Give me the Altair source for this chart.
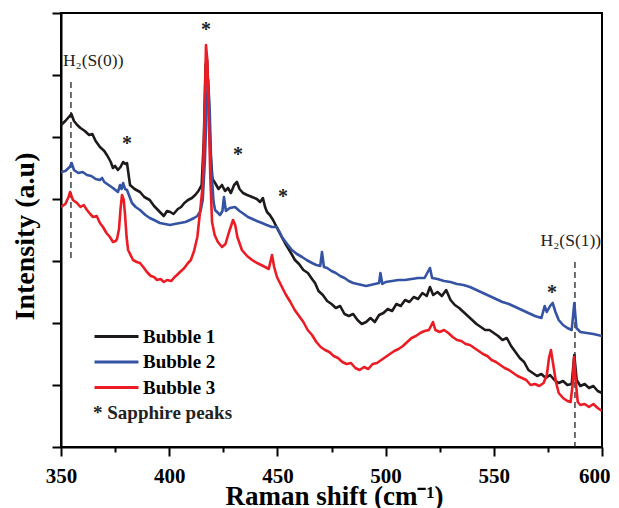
import altair as alt
import pandas as pd

# ---------------- data ----------------
series_names = ["Bubble 1", "Bubble 2", "Bubble 3"]
series_colors = ["#1e1a1b", "#3553a4", "#ec1c24"]

b1_x = [350, 352, 354, 354.8, 356, 357.5, 359, 361, 363, 364.5, 366, 368, 370, 371.5, 373, 374, 375,
        376.3, 377.5, 378.7, 379.8, 380.5, 381.9, 384, 386.5, 388.5, 391, 393, 395.7, 397.5, 399, 400.5,
        402, 404, 405.5, 407, 408.7, 410.5, 412, 413.5, 415, 416, 416.8, 417.5, 418.3, 419, 420, 421.2,
        422.8, 424.4, 425.8, 427.2, 428.5, 430, 431.3, 432.5, 434.1, 436, 438.3, 440.5, 442, 443.3, 444.3,
        445.2, 446.5, 448, 450.3, 452, 453.5, 456, 458.1, 460, 462, 464.1, 466, 467.4, 469, 471, 473, 475,
        477, 479, 481, 483, 485, 487, 489, 491, 493, 495, 497, 499, 501, 503, 505, 507, 509, 511, 513, 515,
        517, 519, 520.5, 522, 524, 526, 528, 530, 532, 534, 536, 538, 540, 542, 544, 546, 548, 550, 552,
        554, 556, 558, 560, 562, 564, 566, 568, 570, 572, 574, 576, 578, 580, 582, 584, 586, 587.2, 588.3,
        590, 592, 594, 596, 598, 600]
b1_y = [322, 326, 331, 333, 326, 322, 319, 316, 312, 313, 306, 300, 296, 291, 285, 279, 281,
        277, 280, 285, 283, 284, 262, 258, 255, 250, 247, 241, 235, 231, 236, 235,
        233, 238, 240, 244, 247, 249, 252, 256, 262, 307, 382, 387, 347, 297, 268, 264,
        258, 262, 256, 259, 254, 262, 265, 258, 254, 252, 250, 248, 245, 249, 240,
        235, 232, 227, 217, 210, 204, 195, 187, 183, 177, 174, 168, 164, 156, 152, 146, 143,
        139, 141, 133, 131, 133, 127, 123, 125, 129, 125, 132, 134, 138, 136, 143, 141, 147, 145, 150, 148,
        154, 151, 160, 152, 155, 151, 157, 147, 142, 139, 135, 131, 127, 123, 120, 117, 117, 114, 111,
        107, 109, 101, 95, 89, 85, 77, 74, 71, 73, 69, 72, 67, 64, 66, 62, 63, 92, 67,
        61, 63, 59, 61, 56, 54]

b2_x = [350, 352, 354, 354.9, 356, 358, 360, 362, 364, 366, 368, 369, 370, 372, 374, 376.3, 377.3, 378,
        378.7, 379.6, 380.5, 382.8, 384.5, 386.5, 389, 391, 393, 395.7, 398, 400.4, 402.5, 405, 407.5,
        409.6, 411.5, 413, 414.5, 415.5, 416.5, 417.4, 418, 418.7, 419.5, 420.5, 421.2, 423.5, 424.6,
        425.3, 426.2, 428, 430.4, 432.5, 434.5, 436.4, 438.5, 440.5, 442.9, 445, 447.5, 449.8, 451,
        452.1, 454.5, 456.7, 459, 461.4, 463.5, 466, 468, 469.8, 470.6, 471.5, 473, 475, 477, 479, 481,
        483, 485, 487, 489, 491, 493, 495, 497, 497.6, 498.5, 500, 503, 506, 509, 512, 515, 518, 520.5,
        521.5, 524, 527, 530, 533, 536, 539, 542, 545, 548, 551, 554, 557, 560, 563, 566, 569, 572,
        573.5, 574.5, 576, 577.2, 578.5, 580, 582, 584, 586, 587.2, 588.2, 590, 593, 596, 600]
b2_y = [275, 276, 280, 284, 277, 274, 275, 272, 271, 268, 267, 269, 265, 262, 259, 255, 262, 258,
        264, 258, 257, 244, 240, 237, 232, 229, 227, 224, 223, 222, 223, 224, 225,
        227, 229, 231, 236, 247, 287, 347, 367, 337, 277, 245, 237, 232, 236,
        250, 236, 239, 240, 236, 233, 230, 228, 226, 224, 222, 220, 220, 215,
        210, 203, 197, 193, 190, 187, 184, 182, 181, 195, 180, 179, 176, 174, 171, 169,
        166, 164, 163, 162, 161, 162, 163, 164, 174, 163, 165, 166, 167, 167, 168, 169, 169, 179,
        169, 168, 166, 165, 163, 162, 160, 157, 154, 151, 148, 145, 143, 140, 137, 134, 131, 129,
        141, 135, 141, 144, 135, 127, 122, 119, 117, 144, 119, 115, 114, 113, 111]

b3_x = [350, 352, 353.5, 354.2, 355.5, 357.4, 359, 360.5, 362, 363.5, 364.8, 366.5, 368, 369.4, 371,
        372.6, 374, 375.3, 375.9, 376.8, 377.5, 378.2, 379, 379.6, 380.3, 381, 383.3, 385, 386.5, 388,
        389.7, 391.5, 393, 394.4, 396, 397.5, 399, 401, 402.5, 403.6, 405, 407, 408.7, 410, 411.5, 413,
        414.5, 415.5, 416.3, 417, 417.6, 418.3, 419, 419.8, 421, 422.5, 424.4, 426, 427.5, 429.5, 430.5,
        431.5, 433.6, 436, 438.3, 440.6, 442.5, 444.3, 446, 447.5, 448.5, 449.8, 452.1, 454, 456, 458,
        460, 462, 464, 466, 468, 470, 472, 474, 476, 478, 480, 482, 484, 486, 488, 490, 492, 494, 496,
        498, 500, 502, 504, 506, 508, 510, 512, 514, 516, 518, 520, 521.9, 523, 525, 527, 529, 531, 533,
        535, 537, 539, 541, 543, 545, 547, 549, 551, 553, 555, 557, 559, 561, 563, 565, 567, 569, 571,
        573, 574.5, 575.5, 576.4, 577.5, 578.7, 580, 582, 584, 585.5, 586.4, 587.1, 587.8, 588.8, 590,
        592, 594, 596, 598, 600]
b3_y = [240, 243, 250, 255, 247, 244, 240, 242, 237, 233, 230, 231, 224, 220, 214,
        210, 205, 206, 208, 218, 238, 252, 247, 232, 210, 197, 187, 185, 184, 180,
        175, 171, 170, 167, 168, 165, 167, 166, 170, 172, 175, 179, 184, 187, 196, 210,
        240, 262, 327, 402, 387, 330, 270, 225, 212, 205, 200, 203, 214, 227, 222,
        210, 197, 191, 187, 184, 182, 180, 178, 192, 180, 170, 160, 152, 145, 137,
        131, 125, 117, 112, 105, 100, 97, 95, 91, 89, 85, 83, 84, 79, 77, 80, 78, 83, 84,
        87, 90, 93, 96, 98, 101, 105, 109, 111, 114, 116, 117, 125, 117, 115, 117, 114, 110, 107,
        106, 103, 102, 99, 96, 93, 91, 87, 85, 82, 79, 77, 74, 71, 69, 67, 62, 63, 61,
        64, 72, 89, 97, 82, 65, 54, 49, 46, 45, 62, 90, 67, 45, 42,
        43, 40, 43, 39, 36]

# sapphire peak markers (asterisks) and H2 lines
star_x = [380.5, 417.0, 431.8, 452.6, 576.9]
star_y = [306, 420, 295, 253, 157]
h2_line_x = [354.6, 587.5]
h2_line_top = [365, 185]
h2_line_bottom = [189, 0]
h2_labels = ["H\u2082(S(0))", "H\u2082(S(1))"]
h2_label_x = [350.9, 599.6]
h2_label_y = [381, 201]

x_ticks = [350, 375, 400, 425, 450, 475, 500, 525, 550, 575, 600]
y_ticks = list(range(0, 435, 31))

SERIF = "Liberation Serif"

# ---------------- tables ----------------
rows = []
for name, xs, ys in zip(series_names, [b1_x, b2_x, b3_x], [b1_y, b2_y, b3_y]):
    for i, (xv, yv) in enumerate(zip(xs, ys)):
        rows.append({"shift": xv, "intensity": yv, "series": name, "idx": i})
df = pd.DataFrame(rows)

stars = pd.DataFrame({"shift": star_x, "intensity": star_y, "t": ["*"] * len(star_x)})
h2lines = pd.DataFrame({"shift": h2_line_x, "top": h2_line_top, "bottom": h2_line_bottom})
h2text = pd.DataFrame({"shift": h2_label_x, "intensity": h2_label_y, "t": h2_labels})
note = pd.DataFrame({"shift": [364.8], "intensity": [28], "t": ["* Sapphire peaks"]})

xscale = alt.Scale(domain=[350, 600], nice=False, zero=False)
yscale = alt.Scale(domain=[0, 434], nice=False, zero=False)

x_axis = alt.Axis(
    values=x_ticks,
    labelExpr="datum.value % 50 === 0 ? datum.label : ''",
    labelOverlap=False,
    labelFlush=False,
    labelAlign={"condition": {"test": "datum.value === 600", "value": "right"}, "value": "center"},
    labelOffset={"condition": {"test": "datum.value === 600", "value": 8}, "value": 0},
    tickSize={"condition": {"test": "datum.value % 50 === 0", "value": 9}, "value": 5},
    tickWidth=2, tickColor="black",
    domainColor="black", domainWidth=2,
    labelFont=SERIF, labelFontWeight="bold", labelFontSize=21, labelColor="black",
    labelPadding=9,
    grid=False,
    title="Raman shift (cm\u207b\u00b9)",
    titleFont=SERIF, titleFontWeight="bold", titleFontSize=27, titleColor="black",
    titleBaseline="alphabetic", titleY=57, titleX=273,
)
y_axis = alt.Axis(
    values=y_ticks,
    labels=False,
    tickSize={"condition": {"test": "datum.value % 62 === 0", "value": 9}, "value": 5},
    tickWidth=2, tickColor="black",
    domainColor="black", domainWidth=2,
    grid=False,
    title="Intensity (a.u)",
    titleFont=SERIF, titleFontWeight="bold", titleFontSize=28, titleColor="black",
    titleBaseline="alphabetic", titleX=-28, titleY=223, titleAngle=-90,
)

X = alt.X("shift:Q", scale=xscale, axis=x_axis)
Y = alt.Y("intensity:Q", scale=yscale, axis=y_axis)

lines = alt.Chart(df).mark_line(strokeWidth=2.6, strokeJoin="round", clip=True).encode(
    x=X,
    y=Y,
    color=alt.Color(
        "series:N",
        scale=alt.Scale(domain=series_names, range=series_colors),
        legend=alt.Legend(
            title=None, orient="none", legendX=43, legendY=311,
            symbolType="M-2,0L2,0", symbolSize=484, symbolStrokeWidth=3,
            symbolFillColor="transparent",
            labelFont=SERIF, labelFontWeight="bold", labelFontSize=19, labelColor="black",
            labelOffset=14, padding=0, rowPadding=2.5,
        ),
    ),
    order="idx:Q",
)

rules = alt.Chart(h2lines).mark_rule(strokeDash=[6, 4], strokeWidth=1.3, color="#222222").encode(
    x=alt.X("shift:Q", scale=xscale),
    y=alt.Y("top:Q", scale=yscale),
    y2="bottom:Q",
)

star_marks = alt.Chart(stars).mark_text(
    font=SERIF, fontWeight="bold", fontSize=20, color="#222222", baseline="alphabetic", dy=9
).encode(x=alt.X("shift:Q", scale=xscale), y=alt.Y("intensity:Q", scale=yscale), text="t:N")

h2_left = alt.Chart(h2text.iloc[[0]]).mark_text(
    font=SERIF, fontSize=17.5, color="#222222", align="left", baseline="alphabetic"
).encode(x=alt.X("shift:Q", scale=xscale), y=alt.Y("intensity:Q", scale=yscale), text="t:N")
h2_right = alt.Chart(h2text.iloc[[1]]).mark_text(
    font=SERIF, fontSize=17.5, color="#222222", align="right", baseline="alphabetic"
).encode(x=alt.X("shift:Q", scale=xscale), y=alt.Y("intensity:Q", scale=yscale), text="t:N")

note_mark = alt.Chart(note).mark_text(
    font=SERIF, fontWeight="bold", fontSize=19, color="#222222", align="left", baseline="alphabetic"
).encode(x=alt.X("shift:Q", scale=xscale), y=alt.Y("intensity:Q", scale=yscale), text="t:N")

chart = alt.layer(rules, lines, star_marks, h2_left, h2_right, note_mark).properties(
    width=541, height=434,
    autosize=alt.AutoSizeParams(type="none"),
    padding={"left": 53, "top": 5, "right": 9, "bottom": 62},
).configure_view(stroke="black", strokeWidth=2)

chart.save("out.html", embed_options={"renderer": "svg", "actions": False})
